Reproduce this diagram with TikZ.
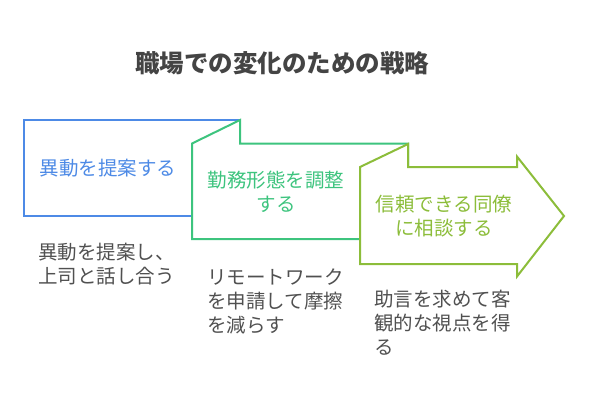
\documentclass[tikz,border=0pt]{standalone}
\usepackage{fontspec}
\setmainfont{Noto Sans CJK JP}
\definecolor{biru}{HTML}{4D8AE6}
\definecolor{hijau}{HTML}{3DC47E}
\definecolor{limau}{HTML}{8CBD3A}
\definecolor{abu}{HTML}{505050}
\begin{document}
\begin{tikzpicture}[x=1pt,y=-1pt,
      bentuk/.style={line width=2pt,fill=white,line join=miter},
      label/.style={inner sep=0pt,align=center,font=\fontsize{19.5}{24}\selectfont},
      keterangan/.style={inner sep=0pt,align=left,anchor=north west,text=abu,
        font=\fontsize{19.5}{24}\selectfont}]
    \useasboundingbox (0,0) rectangle (589,408);
    % Judul
    \node[font=\fontsize{24.5}{28}\selectfont\bfseries,text=abu!85!black] (judul) at (282,63) {職場での変化のための戦略};
    % Langkah 1: kotak biru
    \draw[bentuk,draw=biru] (24,120) rectangle (240,216);
    \node[label,text=biru] (lab1) at (108,168) {異動を提案する};
    % Langkah 2: kotak hijau dengan lipatan
    \draw[bentuk,draw=hijau] (192,143.5) -- (240,120) -- (240,143.5) -- (408,143.5)
          -- (408,239) -- (192,239) -- cycle;
    \node[label,text=hijau] (lab2) at (276,192) {勤務形態を調整\\する};
    % Langkah 3: panah hijau muda
    \draw[bentuk,draw=limau] (360,167) -- (408,144) -- (408,167) -- (517,167)
          -- (517,156.5) -- (564,216) -- (517,276.5) -- (517,264) -- (360,264) -- cycle;
    \node[label,text=limau] (lab3) at (444,216) {信頼できる同僚\\に相談する};
    % Keterangan di bawah tiap langkah
    \node[keterangan] (ket1) at (38,243) {異動を提案し、\\上司と話し合う};
    \node[keterangan] (ket2) at (207,269) {リモートワーク\\を申請して摩擦\\を減らす};
    \node[keterangan] (ket3) at (374,290) {助言を求めて客\\観的な視点を得\\る};
  \end{tikzpicture}
\end{document}
